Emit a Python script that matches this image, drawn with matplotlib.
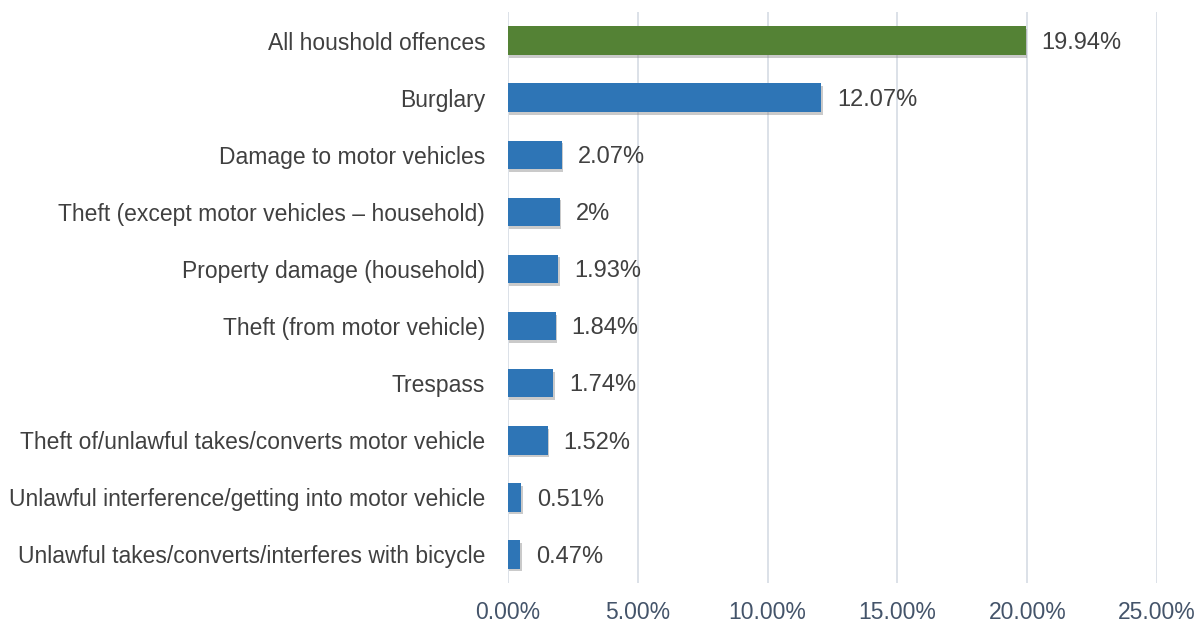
import matplotlib
matplotlib.use("Agg")
import matplotlib.pyplot as plt
import matplotlib.patheffects as pe
from matplotlib.ticker import FuncFormatter, MultipleLocator

categories = [
    "All houshold offences",
    "Burglary",
    "Damage to motor vehicles",
    "Theft (except motor vehicles \u2013 household)",
    "Property damage (household)",
    "Theft (from motor vehicle)",
    "Trespass",
    "Theft of/unlawful takes/converts motor vehicle",
    "Unlawful interference/getting into motor vehicle",
    "Unlawful takes/converts/interferes with bicycle",
]
values = [19.94, 12.07, 2.07, 2.00, 1.93, 1.84, 1.74, 1.52, 0.51, 0.47]
value_labels = ["19.94%", "12.07%", "2.07%", "2%", "1.93%", "1.84%", "1.74%", "1.52%", "0.51%", "0.47%"]
colors = ["#548235"] + ["#2E75B6"] * 9

plt.rcParams['font.family'] = ['Liberation Sans', 'DejaVu Sans']

fig = plt.figure(figsize=(12.04, 6.26), dpi=100)
ax = fig.add_axes([0.422, 0.0687, 0.539, 0.912])

y = list(range(len(categories)))
bars = ax.barh(y, values, height=0.5, color=colors, zorder=3)
for b in bars:
    b.set_path_effects([pe.SimplePatchShadow(offset=(1.0, -2.0), shadow_rgbFace='#8a8a8a', alpha=0.45), pe.Normal()])

for yi, v, lab in zip(y, values, value_labels):
    ax.text(v + 0.6, yi + 0.04, lab, va='center', ha='left', fontsize=17, color='#404040')

ax.set_yticks(y)
ax.set_yticklabels(categories, fontsize=16.5, color='#404040')
ax.set_ylim(len(categories) - 0.5, -0.5)
ax.set_xlim(0, 25)
ax.xaxis.set_major_locator(MultipleLocator(5))
ax.xaxis.set_major_formatter(FuncFormatter(lambda x, p: f"{x:.2f}%"))
ax.tick_params(axis='x', labelsize=16.5, colors='#44546A', length=0, pad=13)
ax.tick_params(axis='y', length=0, pad=16.5)
ax.grid(axis='x', color='#D9DEE6', linewidth=1.3, zorder=0)
for s in ax.spines.values():
    s.set_visible(False)

fig.savefig("out.png", dpi=100)
